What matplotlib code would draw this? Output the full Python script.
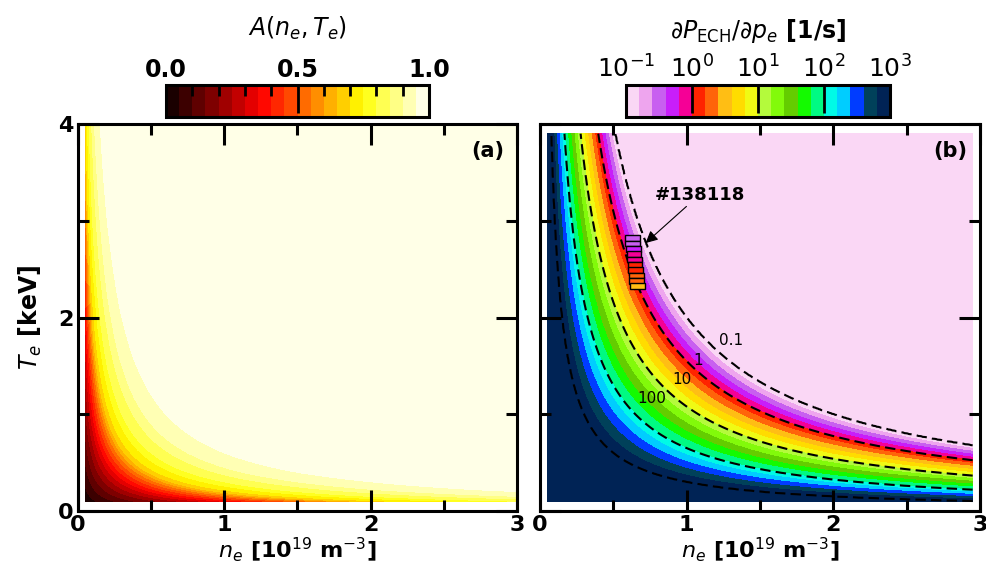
import numpy as np
import matplotlib
matplotlib.use("Agg")
import matplotlib.pyplot as plt
from matplotlib.colors import ListedColormap, Normalize
from matplotlib.patches import Rectangle

# --- data ---
# (a) absorption A vs electron pressure p = n_e*T_e (contours are hyperbolas)
a_p = [0.0, 0.01, 0.03, 0.10, 0.20, 0.30, 0.45, 0.60, 1.0, 20.0]
a_A = [0.0, 0.04, 0.12, 0.35, 0.68, 0.80, 0.90, 0.95, 0.999, 0.999]

# (b) log10(dP_ECH/dp_e) vs p (positions of the dashed contours)
b_p = [0.0, 0.30, 0.65, 1.08, 1.55, 2.00, 20.0]
b_logv = [5.0, 3.0, 2.0, 1.0, 0.0, -1.0, -10.0]

# data ranges of the two maps
a_n_range = [0.05, 3.0]
a_T_range = [0.1, 4.0]
b_n_range = [0.05, 2.95]
b_T_range = [0.1, 3.9]

# shot #138118 boxes
shot_n = [0.630, 0.633, 0.636, 0.640, 0.644, 0.648, 0.652, 0.656, 0.660, 0.664]
shot_T = [2.82, 2.765, 2.71, 2.655, 2.60, 2.545, 2.49, 2.435, 2.38, 2.325]
shot_logv = [-0.55, -0.45, -0.30, -0.15, -0.05, 0.05, 0.15, 0.25, 0.30, 0.40]

contour_lbl = ["0.1", "1", "10", "100"]
contour_lbl_pos = [(1.30, 1.76), (1.08, 1.56), (0.97, 1.36), (0.76, 1.16)]

# colours of panel (b), low -> high
b_colors = ["#fad7f5", "#eea5ee", "#c85ff0", "#c81efa", "#f50096",
            "#ff2300", "#ff640a", "#ffbe14", "#ffdc00", "#f0fa14",
            "#b4fa3c", "#82fa0a", "#64cd00", "#14fa00", "#00fa82",
            "#00fae6", "#00cdff", "#003cff", "#00415a", "#002355"]
cmap_b = ListedColormap(b_colors)

plt.rcParams["font.family"] = "DejaVu Sans"
plt.rcParams["axes.linewidth"] = 2.2

fig = plt.figure(figsize=(9.87, 5.69), dpi=100)
ax1 = fig.add_axes([0.079, 0.1019, 0.4448, 0.6801])
ax2 = fig.add_axes([0.5471, 0.1019, 0.4458, 0.6801])
cax1 = fig.add_axes([0.1682, 0.7944, 0.2665, 0.0562])
cax2 = fig.add_axes([0.6342, 0.7944, 0.2675, 0.0562])

# panel (a)
n1 = np.linspace(a_n_range[0], a_n_range[1], 400)
T1 = np.linspace(a_T_range[0], a_T_range[1], 400)
N1, TT1 = np.meshgrid(n1, T1)
A = np.interp(N1 * TT1, a_p, a_A)
cs1 = ax1.contourf(N1, TT1, A, levels=np.linspace(0, 1, 21), cmap="hot")

# panel (b)
n2 = np.linspace(b_n_range[0], b_n_range[1], 400)
T2 = np.linspace(b_T_range[0], b_T_range[1], 400)
N2, TT2 = np.meshgrid(n2, T2)
logv = np.interp(N2 * TT2, b_p, b_logv)
cs2 = ax2.contourf(N2, TT2, np.clip(logv, -0.999, 2.999),
                   levels=np.linspace(-1, 3, 21), cmap=cmap_b)
ax2.contour(N2, TT2, logv, levels=[-1, 0, 1, 2, 3], colors="k",
            linestyles=[(0, (5, 2.5))], linewidths=1.5)
for lbl, (x, y) in zip(contour_lbl, contour_lbl_pos):
    ax2.text(x, y, lbl, fontsize=11, ha="center", va="center")

norm_b = Normalize(-1, 3)
for n, T, v in zip(shot_n, shot_T, shot_logv):
    ax2.add_patch(Rectangle((n - 0.05, T - 0.03), 0.10, 0.06,
                            facecolor=cmap_b(norm_b(v)), edgecolor="k", lw=1.0, zorder=5))
ax2.annotate("#138118", xy=(0.72, 2.77), xytext=(0.78, 3.27),
             fontsize=13, fontweight="bold", ha="left", va="center",
             arrowprops=dict(arrowstyle="-|>", color="k", lw=0.8,
                             mutation_scale=18, shrinkA=0, shrinkB=0))

for ax, tag in [(ax1, "(a)"), (ax2, "(b)")]:
    ax.set_xlim(0, 3)
    ax.set_ylim(0, 4)
    ax.set_xticks([0, 1, 2, 3])
    ax.set_xticks([0.5, 1.5, 2.5], minor=True)
    ax.set_yticks([0, 2, 4])
    ax.set_yticks([1, 3], minor=True)
    ax.tick_params(which="both", direction="in", top=True, right=True,
                   labelsize=16, pad=3)
    ax.tick_params(which="major", length=15, width=2.2)
    ax.tick_params(which="minor", length=8, width=2.2)
    for lab in ax.get_xticklabels() + ax.get_yticklabels():
        lab.set_fontweight("bold")
    ax.set_xlabel(r"$n_e$ [10$^{19}$ m$^{-3}$]", fontsize=16, fontweight="bold", labelpad=0)
    ax.text(0.97, 0.955, tag, transform=ax.transAxes, ha="right", va="top",
            fontsize=15, fontweight="bold")
ax2.set_yticklabels([])
ax1.set_ylabel(r"$T_e$ [keV]", fontsize=17, fontweight="bold", labelpad=10)

# colorbars
cb1 = fig.colorbar(cs1, cax=cax1, orientation="horizontal", ticklocation="top")
cb1.set_ticks([0, 0.5, 1.0])
cb1.set_ticklabels(["0.0", "0.5", "1.0"], fontweight="bold")
cb1.ax.set_xticks(np.arange(0.1, 1.0, 0.1), minor=True)
cb1.ax.tick_params(which="major", direction="in", length=20, width=2, labelsize=17, pad=2)
cb1.ax.tick_params(which="minor", direction="in", length=8, width=2)
cb1.outline.set_linewidth(2.2)
cb1.ax.set_title(r"$A(n_e, T_e)$", fontsize=17, pad=16)

cb2 = fig.colorbar(cs2, cax=cax2, orientation="horizontal", ticklocation="top")
cb2.set_ticks([-1, 0, 1, 2, 3])
cb2.set_ticklabels([r"$10^{-1}$", r"$10^{0}$", r"$10^{1}$", r"$10^{2}$", r"$10^{3}$"])
cb2.ax.minorticks_off()
cb2.ax.tick_params(which="major", direction="in", length=20, width=2, labelsize=18, pad=2)
cb2.outline.set_linewidth(2.2)
cb2.ax.set_title(r"$\partial P_{\rm ECH}/\partial p_e$ [1/s]", fontsize=17,
                 fontweight="bold", pad=12)

fig.savefig("out.png", dpi=100)
